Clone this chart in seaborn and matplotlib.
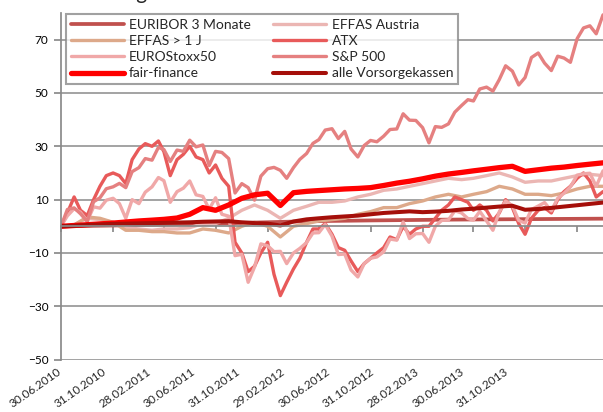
import numpy as np
import pandas as pd
import matplotlib
matplotlib.use("Agg")
import matplotlib.pyplot as plt
import seaborn as sns

# Zeitachsen (halbmonatlich fuer Aktien, monatlich fuer glatte Reihen)
half_month = pd.date_range("2010-06-30", "2013-12-31", freq=pd.offsets.SemiMonthEnd())
month_end = pd.date_range("2010-06-30", "2013-12-31", freq=pd.offsets.MonthEnd())

tick_labels = ["30.06.2010", "31.10.2010", "28.02.2011", "30.06.2011", "31.10.2011",
               "29.02.2012", "30.06.2012", "31.10.2012", "28.02.2013", "30.06.2013",
               "31.10.2013"]

# Aktienindizes, Wertentwicklung in % (halbmonatlich)
sp500 = [0, 6.3, 6.9, 4.7, 1.8, 9.2, 10.7, 14.1, 14.8, 16.1, 14.5, 20.5, 22.0,
         25.4, 24.8, 29.6, 28.8, 24.3, 28.6, 28.1, 32.3, 29.8, 30.5, 22.8, 28.1,
         27.7, 25.4, 12.5, 16.0, 14.5, 9.8, 18.8, 21.6, 22.1, 21.0, 18.0, 22.0,
         25.1, 27.3, 31.1, 32.5, 36.1, 36.6, 32.9, 35.6, 29.0, 26.0, 30.3, 32.2,
         31.7, 33.8, 36.3, 36.5, 42.2, 39.8, 39.7, 37.0, 31.3, 37.4, 37.1, 38.4,
         42.8, 45.3, 47.5, 47.0, 51.5, 52.2, 50.7, 55.0, 60.2, 58.2, 53.0, 55.8,
         63.3, 65.0, 61.2, 58.4, 63.8, 63.1, 61.5, 70.4, 74.4, 75.2, 72.2, 79.3]
atx = [0, 5, 11, 6, 4, 10, 15, 19, 20, 19, 16, 25, 29,
       31, 30, 32, 28, 19, 25, 27, 30, 26, 25, 20, 23,
       18, 15, -6, -10, -17, -15, -10, -6, -18, -26, -21, -16,
       -12, -6, -1, -1, 1, -3, -8, -9, -13, -17, -14, -12,
       -10, -8, -4, -5, 0, -3, -1, 0, 0, 3, 6, 8,
       11, 10, 9, 6, 8, 6, 2, 5, 10, 7, 1, -3,
       3, 6, 7, 5, 10, 13, 15, 18, 20, 17, 11, 13]
eurostoxx = [0, 3.9, 6.6, 5.3, 1.9, 7.3, 6.8, 9.8, 10.5, 8.5, 3.0, 10.0, 8.5,
             12.8, 14.8, 18.3, 17.1, 9.0, 13.0, 14.3, 17.0, 11.8, 11.2, 6.4, 10.7,
             4.5, 3.8, -11.0, -10.5, -21.0, -15.3, -6.6, -7.3, -9.5, -9.4, -14.0, -10.0,
             -8.3, -6.1, -2.5, -2.4, 0.7, -3.7, -10.6, -10.4, -16.4, -19.0, -14.0, -12.0,
             -11.5, -9.6, -4.8, -5.2, 1.6, -4.6, -2.8, -2.7, -6.0, 0.0, 2.2, 2.4,
             5.8, 5.0, 2.9, 2.3, 5.6, 2.0, -1.5, 5.4, 9.5, 7.7, 2.2, 1.2,
             6.3, 7.6, 8.9, 5.8, 10.5, 12.4, 14.8, 19.2, 19.7, 19.9, 15.0, 20.8]

# Anleihen, Geldmarkt und Vorsorgekassen (monatlich)
euribor = [0, 0.07, 0.14, 0.22, 0.3, 0.38, 0.46, 0.54, 0.63, 0.72, 0.82, 0.93,
           1.04, 1.16, 1.28, 1.4, 1.52, 1.64, 1.76, 1.86, 1.94, 2.02, 2.08, 2.14,
           2.2, 2.25, 2.3, 2.35, 2.4, 2.45, 2.5, 2.53, 2.56, 2.59, 2.62, 2.65,
           2.68, 2.71, 2.74, 2.77, 2.8, 2.83, 2.86]
effas_austria = [0, 0.5, 3, 2.5, 1.5, -0.5, -1, -1.5, -1, -1, -0.5, 1,
                 1, 3, 6, 8, 6, 3, 6, 7.5, 9, 9, 9.5, 11,
                 12, 13.5, 14, 15, 16, 17, 18, 17.5, 18, 19, 20, 18.5,
                 16.5, 17, 17, 18, 19, 19.5, 19]
effas_1j = [0, 0.5, 3.5, 3, 1.5, -1.5, -1.5, -2, -2, -2.5, -2.5, -1,
            -1.5, -2.5, 0, 1.5, 0, -4, 0, 1, 2, 2.5, 3, 4.5,
            5.5, 7, 7, 8.5, 9.5, 11, 12, 11, 12, 13, 15, 14,
            12, 12, 11.5, 12.5, 14, 15, 15]
fair_finance = [0, 0.3, 0.6, 0.9, 1.2, 1.6, 2.0, 2.3, 2.6, 3.1, 4.5, 7.0,
                6.0, 8.0, 10.5, 11.8, 12.4, 7.8, 12.6, 13.1, 13.4, 13.7, 14.0, 14.2,
                14.5, 15.3, 16.2, 16.9, 17.8, 18.8, 19.6, 20.2, 20.8, 21.4, 22.0, 22.5,
                20.6, 21.2, 21.8, 22.2, 22.8, 23.3, 23.8]
alle_vk = [0, 0.2, 0.5, 0.7, 0.9, 1.0, 1.1, 1.2, 1.3, 1.4, 1.5, 1.7,
           1.8, 1.9, 1.5, 1.2, 1.0, 0.3, 1.8, 2.6, 3.0, 3.4, 3.7, 4.0,
           4.5, 5.0, 5.3, 5.6, 5.3, 5.5, 5.8, 6.3, 6.6, 7.0, 7.4, 7.7,
           6.2, 6.5, 6.9, 7.4, 7.9, 8.4, 8.9]

# Zeichenreihenfolge wie in Excel (spaeter = oben)
series = [
    ("EURIBOR 3 Monate", month_end, euribor, "#C0504D", 2.7),
    ("EFFAS Austria", month_end, effas_austria, "#EBB6B3", 2.4),
    ("EFFAS > 1 J", month_end, effas_1j, "#DDA98A", 2.4),
    ("ATX", half_month, atx, "#E85A5A", 2.4),
    ("EUROStoxx50", half_month, eurostoxx, "#F0A8A8", 2.4),
    ("S&P 500", half_month, sp500, "#E58080", 2.4),
    ("fair-finance", month_end, fair_finance, "#FF0000", 3.8),
    ("alle Vorsorgekassen", month_end, alle_vk, "#A50F0A", 2.9),
]
legend_order = ["EURIBOR 3 Monate", "EFFAS > 1 J", "EUROStoxx50", "fair-finance",
                "EFFAS Austria", "ATX", "S&P 500", "alle Vorsorgekassen"]

sns.set_theme(style="white")
plt.rcParams["font.family"] = ["Lato", "DejaVu Sans"]

W, H = 603, 412
fig = plt.figure(figsize=(W / 100, H / 100), dpi=100)
ax = fig.add_axes([61 / W, 1 - 359.6 / H, 542 / W, 346.6 / H])

for name, x, y, col, lw in series:
    sns.lineplot(x=x, y=y, ax=ax, color=col, lw=lw, label=name)

grey = "#8A8A8A"
ax.set_ylim(-50, 80)
ax.set_yticks(np.arange(-50, 71, 20))
ax.grid(axis="y", color=grey, lw=1.1)
ax.set_axisbelow(True)
ax.set_xlim(month_end[0], month_end[-1])

for s in ["top", "right"]:
    ax.spines[s].set_visible(False)
ax.spines["left"].set_color(grey)
ax.spines["bottom"].set_color(grey)
ax.spines["bottom"].set_position(("data", 0))
ax.tick_params(axis="y", left=True, direction="out", length=5, color=grey,
               labelsize=8.5, labelcolor="black", pad=4)

tick_dates = pd.to_datetime(tick_labels, format="%d.%m.%Y")
ax.set_xticks(tick_dates)
ax.tick_params(axis="x", bottom=True, direction="out", length=4, color=grey,
               labelbottom=False)
ax.set_xlabel("")
ax.set_ylabel("")

# Datumsbeschriftung unten (wie im Excel-Original leicht gestaucht)
for i, lab in enumerate(tick_labels):
    px = 57 + i * 44.7
    fig.text(px / W, 1 - 366 / H, lab, rotation=35, rotation_mode="anchor",
             ha="right", va="top", fontsize=8.5)

handles, labels = ax.get_legend_handles_labels()
lookup = dict(zip(labels, handles))
leg = ax.legend([lookup[n] for n in legend_order], legend_order, ncol=2,
                loc="upper left", bbox_to_anchor=(5 / 542, (359.6 - 14) / 346.6),
                borderaxespad=0, fontsize=10, frameon=True, fancybox=False,
                handlelength=3.8, handletextpad=0.4, columnspacing=1.6,
                labelspacing=0.3, borderpad=0.35)
leg.get_frame().set_edgecolor(grey)
leg.get_frame().set_linewidth(1.5)

# Titel ragt oben aus dem Ausschnitt, nur die Unterlaenge bleibt sichtbar
fig.text(148 / W, 1 + 1 / H, "Wertentwicklung", ha="right", va="baseline", fontsize=15)

fig.savefig("out.png", dpi=100)
